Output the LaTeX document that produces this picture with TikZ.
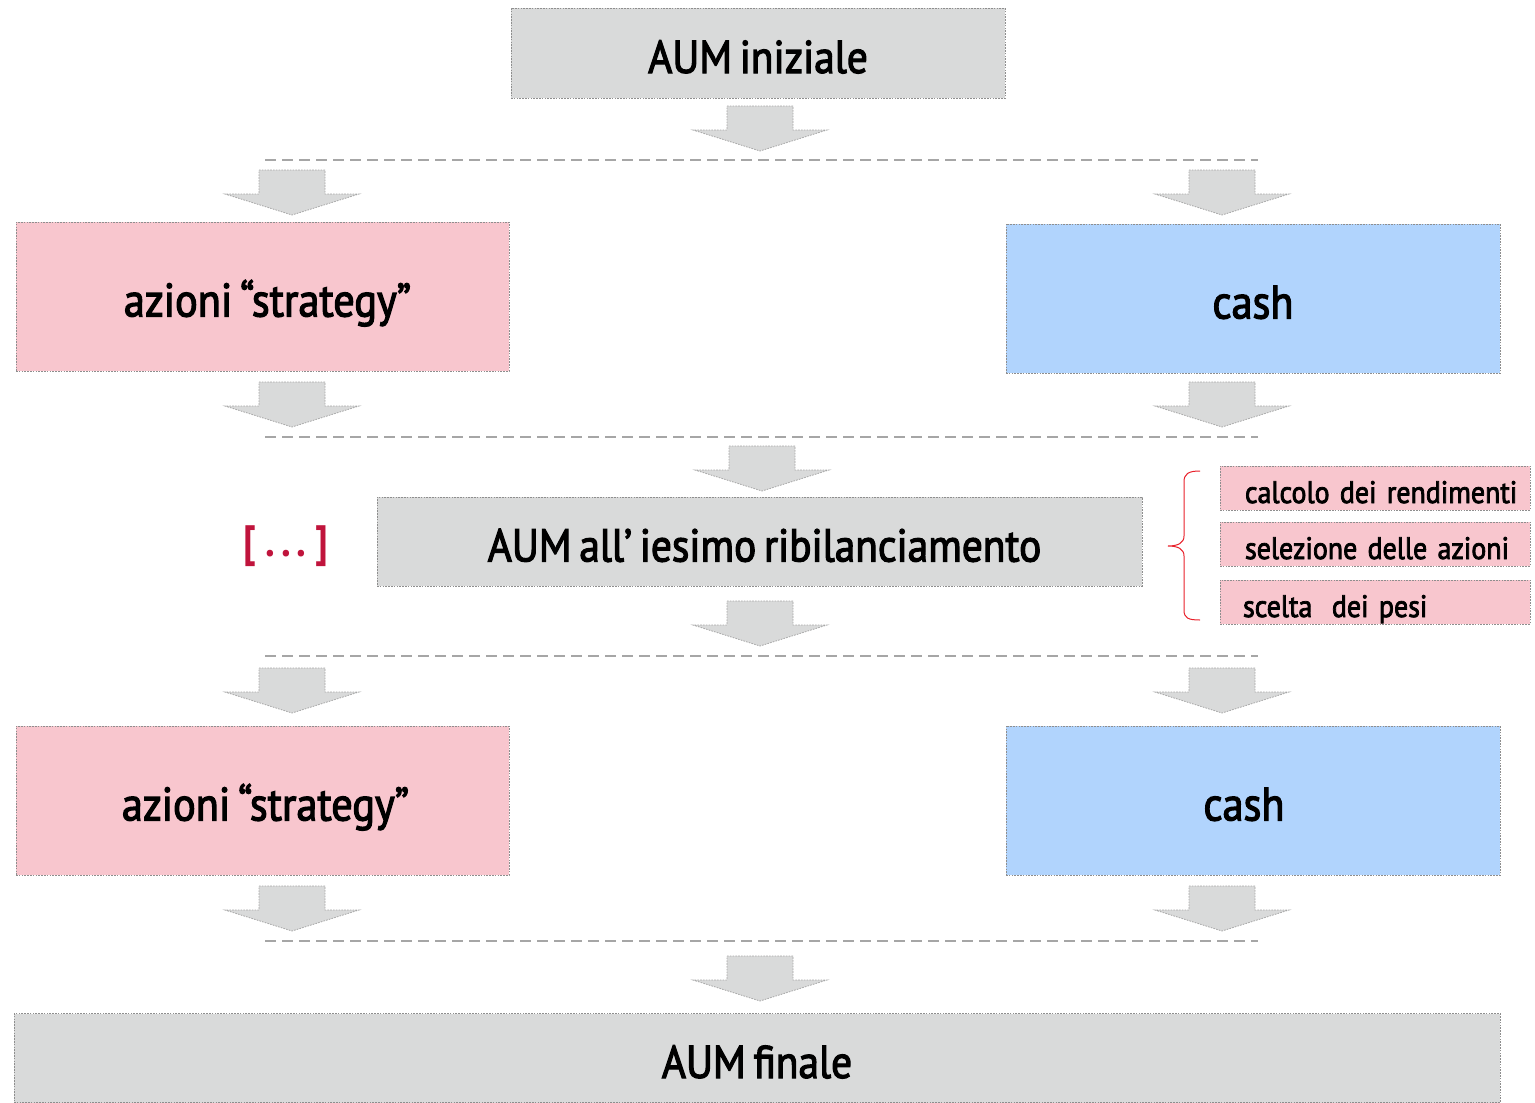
\documentclass[tikz,border=0pt]{standalone}
\usepackage{fontspec}
\setmainfont{PT Sans}[UprightFeatures={FakeBold=2.5}, FakeStretch=0.9, WordSpace=0.7]
\definecolor{boxgray}{HTML}{D9DADA}
\definecolor{boxpink}{HTML}{F8C6CE}
\definecolor{boxblue}{HTML}{B1D4FD}
\definecolor{edgegray}{HTML}{8E8E8E}
\definecolor{sepgray}{HTML}{A6A6A6}
\definecolor{bracered}{HTML}{E8202A}
\definecolor{dotsred}{HTML}{C0143C}
\tikzset{
  boxbase/.style={draw=edgegray, line width=0.8pt, dash pattern=on 1.6pt off 1.2pt, inner sep=0pt, align=center},
  graybox/.style={boxbase, fill=boxgray},
  pinkbox/.style={boxbase, fill=boxpink},
  bluebox/.style={boxbase, fill=boxblue},
  bigtxt/.style={font=\fontsize{46}{52}\selectfont, text height=40pt, text depth=0pt},
  midtxt/.style={font=\fontsize{47}{50}\selectfont, text height=40pt, text depth=0pt},
  smalltxt/.style={font=\fontsize{31}{34}\selectfont, text height=30pt, text depth=0pt},
  stepnote/.style={pinkbox, smalltxt, minimum width=310pt, minimum height=44pt, text width=300pt, align=left},
  sepline/.style={draw=sepgray, line width=2.6pt, dash pattern=on 11pt off 6pt},
  blockarrow/.style={fill=boxgray, draw=sepgray, line width=0.8pt, dash pattern=on 1.6pt off 1.2pt},
  bracestyle/.style={draw=bracered, line width=1pt},
}
\newcommand{\downblock}[2]{%
  \path[blockarrow] (#1-33,#2) -- (#1+33,#2) -- (#1+33,#2+24) -- (#1+67,#2+24)
    -- (#1,#2+45) -- (#1-67,#2+24) -- (#1-33,#2+24) -- cycle;}
\begin{document}
\begin{tikzpicture}[x=1pt,y=-1pt]
\useasboundingbox (0,0) rectangle (1535,1103);
% top
\node[graybox, bigtxt, minimum width=494pt, minimum height=90pt] (aumi) at (758,53) {AUM iniziale};
\downblock{760}{106}
\coordinate (s1l) at (265,160); \coordinate (s1r) at (1258,160);
\draw[sepline] (s1l) -- (s1r);
\downblock{292}{170}
\downblock{1222}{170}
% first split
\node[pinkbox, midtxt, minimum width=493pt, minimum height=149pt] (az1) at (262.5,296.5) {\hspace*{10pt}azioni “strategy”};
\node[bluebox, midtxt, minimum width=494pt, minimum height=149pt] (cash1) at (1253,298.5) {cash};
\downblock{292}{382}
\downblock{1222}{382}
\coordinate (s2l) at (265,437); \coordinate (s2r) at (1258,437);
\draw[sepline] (s2l) -- (s2r);
\downblock{762}{446}
% middle
\node[graybox, bigtxt, minimum width=765pt, minimum height=89pt] (aumk) at (759.5,541.5) {\hspace*{10pt}AUM all’ iesimo ribilanciamento};
\node[text=dotsred, font=\fontsize{44}{48}\selectfont\bfseries] (dots) at (286,546) {[\hspace{9pt}.\hspace{6pt}.\hspace{6pt}.\hspace{9pt}]};
\coordinate (bt) at (1200,471);
\coordinate (bb) at (1200,620);
\coordinate (btip) at (1168,546);
\draw[bracestyle] (bt) .. controls (1188,471) and (1184,474) .. (1184,482)
  -- (1184,536) .. controls (1184,543) and (1178,546) .. (btip)
  .. controls (1178,546) and (1184,549) .. (1184,556)
  -- (1184,610) .. controls (1184,618) and (1188,620) .. (bb);
\node[stepnote] (t1) at (1375,488) {\hspace*{20pt}calcolo dei rendimenti};
\node[stepnote] (t2) at (1375,544) {\hspace*{20pt}selezione delle azioni};
\node[stepnote] (t3) at (1375,602) {\hspace*{18pt}scelta\hspace{0.3em} dei pesi};
\downblock{760}{601}
\coordinate (s3l) at (265,656); \coordinate (s3r) at (1258,656);
\draw[sepline] (s3l) -- (s3r);
\downblock{292}{668}
\downblock{1222}{668}
% second split
\node[pinkbox, midtxt, minimum width=493pt, minimum height=149pt] (az2) at (262.5,800.5) {\hspace*{6pt}azioni “strategy”};
\node[bluebox, midtxt, minimum width=494pt, minimum height=149pt] (cash2) at (1253,800.5) {\hspace*{-18pt}cash};
\downblock{292}{886}
\downblock{1222}{886}
\coordinate (s4l) at (265,941); \coordinate (s4r) at (1258,941);
\draw[sepline] (s4l) -- (s4r);
\downblock{760}{956}
% final
\node[graybox, bigtxt, minimum width=1486pt, minimum height=89pt] (aumf) at (757,1058) {AUM finale};
\end{tikzpicture}
\end{document}
